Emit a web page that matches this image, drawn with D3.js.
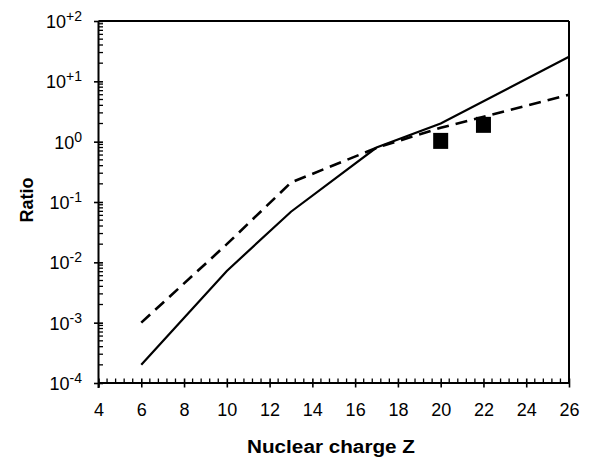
<!DOCTYPE html>
<html>
<head>
<meta charset="utf-8">
<script src="https://cdn.jsdelivr.net/npm/d3@7"></script>
<style>
  html, body { margin: 0; padding: 0; background: #fff; }
  svg { display: block; }
  text { font-family: "Liberation Sans", Arial, sans-serif; fill: #000; }
</style>
</head>
<body>
<svg id="chart" width="589" height="459"></svg>
<script>
// ---- data ----
const solidZ = [6, 10, 13, 17, 20, 26];
const solidRatio = [2e-4, 7.2e-3, 0.069, 0.8, 2.0, 25.5];
const dashedZ = [6, 10, 13, 17, 20, 26];
const dashedRatio = [1e-3, 0.02, 0.21, 0.79, 1.7, 6.0];
const pointZ = [20, 22];
const pointRatio = [1.03, 1.9];
const xTicks = [4, 6, 8, 10, 12, 14, 16, 18, 20, 22, 24, 26];
const yExponents = ["+2", "+1", "0", "-1", "-2", "-3", "-4"];
const yTickValues = [1e2, 1e1, 1e0, 1e-1, 1e-2, 1e-3, 1e-4];
const xTitle = "Nuclear charge Z";
const yTitle = "Ratio";

// ---- layout ----
const pLeft = 98.5, pRight = 569, pTop = 21, pBottom = 383;
const svg = d3.select("#chart");
const x = d3.scaleLinear().domain([4, 26]).range([pLeft, pRight]);
const y = d3.scaleLog().domain([1e-4, 1e2]).range([pBottom, pTop]);

// frame top & right
svg.append("line").attr("x1", pLeft).attr("x2", pRight).attr("y1", pTop).attr("y2", pTop)
  .attr("stroke", "#000").attr("stroke-width", 2);
svg.append("line").attr("x1", pRight).attr("x2", pRight).attr("y1", pTop).attr("y2", pBottom)
  .attr("stroke", "#000").attr("stroke-width", 2);

// x minor ticks (inside)
const xMinor = [];
for (let i = 0; i < 55; i++) {
  const r = Math.round((4 + i * 0.4) * 10) / 10;
  if (i % 5 !== 0) xMinor.push(r);
}
svg.append("g").selectAll("line").data(xMinor).join("line")
  .attr("x1", d => x(d)).attr("x2", d => x(d))
  .attr("y1", pBottom).attr("y2", pBottom - 4.5)
  .attr("stroke", "#000").attr("stroke-width", 1.3);

// y minor ticks (inside)
const yMinor = [];
for (let e = -4; e < 2; e++) for (let m = 2; m <= 9; m++) yMinor.push(m * Math.pow(10, e));
svg.append("g").selectAll("line").data(yMinor).join("line")
  .attr("x1", pLeft).attr("x2", pLeft + 4.5)
  .attr("y1", d => y(d)).attr("y2", d => y(d))
  .attr("stroke", "#000").attr("stroke-width", 1.3);

// x axis
const xAxis = svg.append("g").attr("transform", `translate(0,${pBottom})`)
  .call(d3.axisBottom(x).tickValues(xTicks).tickSize(4.5).tickPadding(16).tickSizeOuter(0).tickFormat(d3.format("d")));
xAxis.select(".domain").attr("stroke-width", 2).attr("d", `M${pLeft},0H${pRight}`);
xAxis.selectAll(".tick line").attr("y1", -4.5).attr("y2", 4.5).attr("stroke-width", 1.6);
xAxis.selectAll(".tick text").attr("font-size", 18).attr("font-family", "Liberation Sans, Arial, sans-serif").attr("dy", "0.71em");

// y axis
const yAxis = svg.append("g").attr("transform", `translate(${pLeft},0)`)
  .call(d3.axisLeft(y).tickValues(yTickValues).tickSize(4.5).tickSizeOuter(0).tickFormat(""));
yAxis.select(".domain").attr("stroke-width", 2).attr("d", `M0,${pBottom + 5}V${pTop}`);
yAxis.selectAll(".tick line").attr("x1", -4.5).attr("x2", 4.5).attr("stroke-width", 1.6);

// y tick labels with superscripts
const yl = svg.append("g").selectAll("text").data(yTickValues).join("text")
  .attr("x", 82).attr("y", d => y(d) + 7).attr("text-anchor", "end").attr("font-size", 18);
yl.append("tspan").text("10");
yl.append("tspan").attr("font-size", 14).attr("dy", -7).text((d, i) => yExponents[i]);

// lines
const line = d3.line().x(d => x(d[0])).y(d => y(d[1]));
svg.append("path").datum(solidZ.map((z, i) => [z, solidRatio[i]]))
  .attr("d", line).attr("fill", "none").attr("stroke", "#000").attr("stroke-width", 2.2);
svg.append("path").datum(dashedZ.map((z, i) => [z, dashedRatio[i]]))
  .attr("d", line).attr("fill", "none").attr("stroke", "#000").attr("stroke-width", 2.6)
  .attr("stroke-dasharray", "12,7");

// square markers
svg.append("g").selectAll("rect").data(pointZ.map((z, i) => [z, pointRatio[i]])).join("rect")
  .attr("x", d => x(d[0]) - 7.5).attr("y", d => y(d[1]) - 8)
  .attr("width", 15).attr("height", 16).attr("fill", "#000");

// titles
svg.append("text").attr("x", 331).attr("y", 453).attr("text-anchor", "middle")
  .attr("font-size", 17.5).attr("font-weight", "bold")
  .attr("textLength", 168).attr("lengthAdjust", "spacingAndGlyphs").text(xTitle);
svg.append("text").attr("transform", "translate(33,200) rotate(-90)").attr("text-anchor", "middle")
  .attr("font-size", 18).attr("font-weight", "bold").text(yTitle);
</script>
</body>
</html>
